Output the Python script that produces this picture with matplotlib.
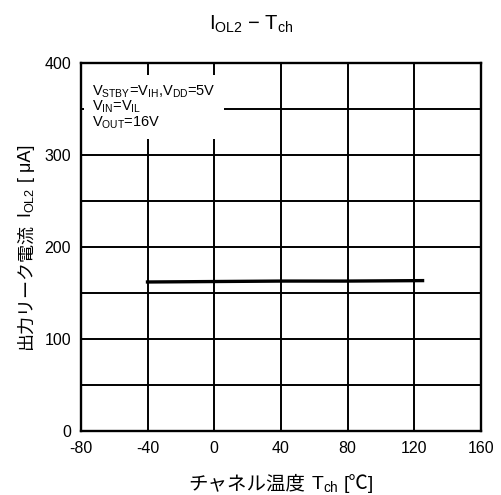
import numpy as np
from matplotlib import pyplot as plt

plt.rcParams['font.family'] = ['Liberation Sans', 'Noto Sans CJK JP', 'DejaVu Sans']
plt.rcParams['mathtext.fontset'] = 'custom'
plt.rcParams['mathtext.rm'] = 'Liberation Sans'
plt.rcParams['axes.unicode_minus'] = False

temp = [-40, 0, 40, 80, 125]
i_ol2 = [162, 162.5, 163, 163, 163.5]

x_ticks = [-80, -40, 0, 40, 80, 120, 160]
y_ticks = [0, 50, 100, 150, 200, 250, 300, 350, 400]
y_labels = ['0', '', '100', '', '200', '', '300', '', '400']

fig = plt.figure(figsize=(5.02, 4.95), dpi=100)
ax = fig.add_axes([0.161, 0.129, 0.797, 0.744])

ax.plot(temp, i_ol2, color='black', linewidth=2.4, zorder=4)

ax.set_xlim(-80, 160)
ax.set_ylim(0, 400)
ax.set_xticks(x_ticks)
ax.set_yticks(y_ticks)
ax.set_yticklabels(y_labels)
ax.tick_params(length=0, labelsize=11.5, pad=7)
ax.grid(True, color='black', linewidth=1.4)
for s in ax.spines.values():
    s.set_linewidth(1.7)

fig.text(0.5, 0.95, '$\\mathregular{I_{OL2}}$ $-$ $\\mathregular{T_{ch}}$',
         ha='center', va='center', fontsize=14.5)

ax.text(0.028, 0.945,
        '$\\mathregular{V_{STBY}}$=$\\mathregular{V_{IH}}$,$\\mathregular{V_{DD}}$=5V\n'
        '$\\mathregular{V_{IN}}$=$\\mathregular{V_{IL}}$\n'
        '$\\mathregular{V_{OUT}}$=16V',
        transform=ax.transAxes, ha='left', va='top', fontsize=10.5,
        linespacing=0.95, zorder=5,
        bbox=dict(facecolor='white', edgecolor='none', pad=6))


# labels mixing Japanese (needs font fallback) and mathtext subscripts
def joined_label(parts, cx, cy, vertical, size):
    r = fig.canvas.get_renderer()
    rot = 90 if vertical else 0
    items = []
    for txt, gap in parts:
        t = fig.text(0, 0, txt, fontsize=size, rotation=rot, rotation_mode='anchor',
                     ha='left', va='baseline', transform=None)
        ext = t.get_window_extent(r)
        items.append((t, ext.height if vertical else ext.width, gap))
    total = sum(w + g for _, w, g in items)
    H = fig.bbox.height
    pos = (H - cy if vertical else cx) - total / 2
    for t, w, g in items:
        if vertical:
            t.set_position((cx, pos))
        else:
            t.set_position((pos, H - cy))
        pos += w + g


joined_label([('チャネル温度', 6), ('$\\mathregular{T_{ch}}$', 5), ('[℃]', 0)],
             281, 489, False, 14)
joined_label([('出力リーク電流', 5), ('$\\mathregular{I_{OL2}}$', 5), ('[ μA]', 0)],
             31, 247, True, 13)

plt.savefig('out.png', dpi=100)
